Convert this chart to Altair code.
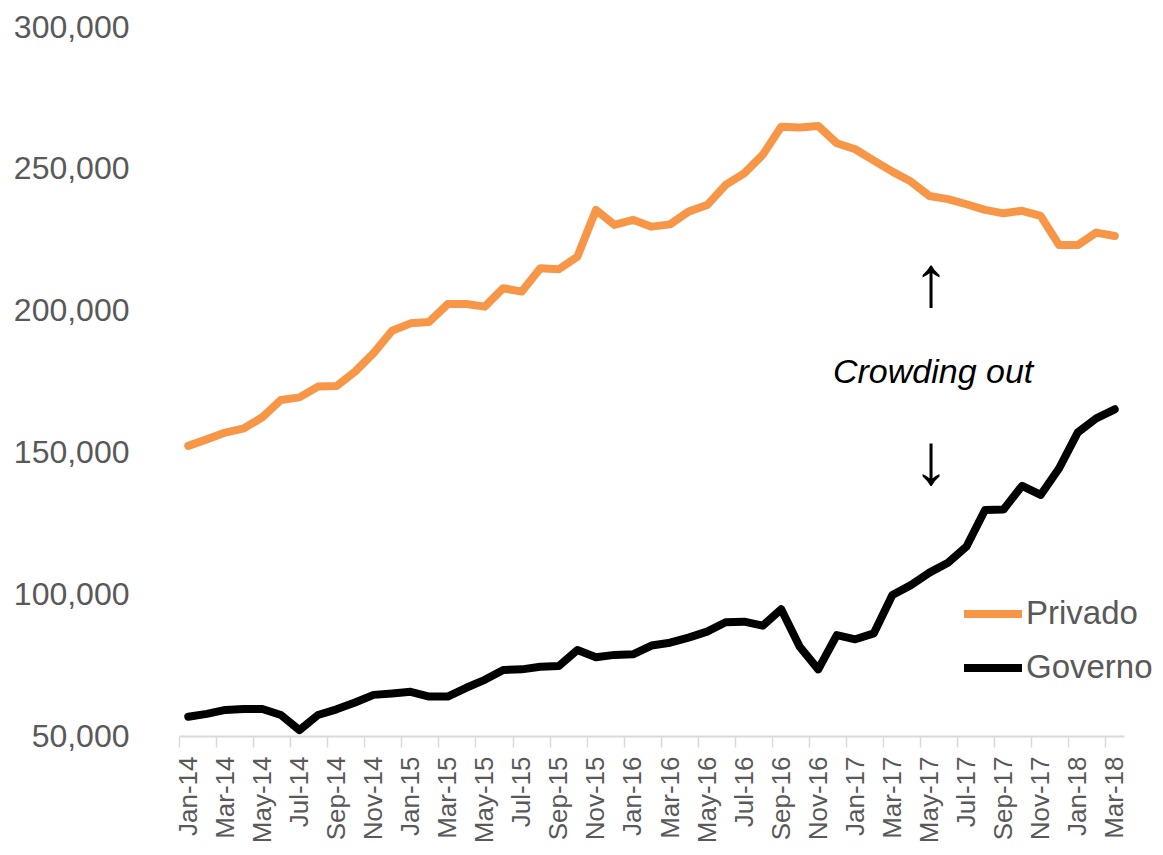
import json
import altair as alt
import pandas as pd

mon = ["Jan", "Feb", "Mar", "Apr", "May", "Jun", "Jul", "Aug", "Sep", "Oct", "Nov", "Dec"]
months = [f"{m}-{y:02d}" for y in range(14, 19) for m in mon][:51]

privado = [152300, 154600, 157000, 158500, 162400, 168500, 169400, 173200, 173400, 178500,
           185000, 192900, 195500, 196000, 202300, 202300, 201400, 207900, 206700, 214900,
           214600, 219000, 235500, 230200, 232000, 229600, 230400, 234900, 237200, 244300,
           248400, 254900, 264800, 264600, 265100, 259000, 256900, 252900, 249000, 245500,
           240400, 239300, 237500, 235500, 234300, 235200, 233400, 223100, 223100, 227500,
           226300]
governo = [56800, 57800, 59200, 59500, 59500, 57400, 52100, 57400, 59400, 61800,
           64500, 65000, 65600, 63900, 63900, 67000, 69800, 73300, 73500, 74400,
           74700, 80300, 77800, 78600, 78800, 81900, 82900, 84700, 86800, 90100,
           90300, 88900, 94700, 81500, 73500, 85600, 84100, 86200, 99700, 103200,
           107600, 111100, 116800, 129700, 129900, 138200, 135000, 144400, 157000, 162000,
           165200]
series_names = ["Privado", "Governo"]
series_colors = ["#F79646", "#000000"]
y_ticks = [50000, 100000, 150000, 200000, 250000, 300000]

# annotation
note_text = ["Crowding out"]
note_i = [40.2]
note_v = [178000]
arrow_text = ["↑", "↓"]
arrow_i = [40.1, 40.1]
arrow_v = [209500, 146500]

n = len(months)
df = pd.DataFrame({
    "i": list(range(n)) * 2,
    "month": months * 2,
    "value": privado + governo,
    "series": [series_names[0]] * n + [series_names[1]] * n,
})
notes = pd.DataFrame({"t": note_text, "i": note_i, "value": note_v})
arrows = pd.DataFrame({"t": arrow_text, "i": arrow_i, "value": arrow_v})

FONT = "Liberation Sans, Arial, sans-serif"
GRAY = "#595959"

tick_vals = []
for k in range(0, n, 2):
    tick_vals += [k - 0.5, k]
label_expr = f"datum.value % 1 == 0 ? {json.dumps(months)}[datum.value] : ''"

x_scale = alt.Scale(domain=[-0.5, n - 0.5], nice=False, zero=False)
y_scale = alt.Scale(domain=[50000, 300000], nice=False, zero=False)

x_enc = alt.X("i:Q", scale=x_scale, title=None,
              axis=alt.Axis(values=tick_vals, labelExpr=label_expr, labelAngle=270,
                            labelFont=FONT, labelFontSize=26, labelColor=GRAY,
                            labelPadding=9, labelOverlap=False, labelFlush=False,
                            grid=False, domain=True, domainColor="#D9D9D9", domainWidth=2,
                            tickColor="#D9D9D9", tickWidth=1.5, tickSize=11,
                            tickOpacity={"condition": {"test": "datum.value % 1 == 0", "value": 0},
                                         "value": 1}))
y_enc = alt.Y("value:Q", scale=y_scale, title=None,
              axis=alt.Axis(values=y_ticks, format=",.0f", labelFont=FONT, labelFontSize=32,
                            labelColor=GRAY, labelPadding=50, domain=False, ticks=False,
                            grid=False))

lines = alt.Chart(df).mark_line(strokeWidth=8, strokeCap="round", strokeJoin="round").encode(
    x=x_enc,
    y=y_enc,
    color=alt.Color("series:N",
                    scale=alt.Scale(domain=series_names, range=series_colors),
                    legend=alt.Legend(title=None, orient="none", legendX=781, legendY=554,
                                      labelFont=FONT, labelFontSize=33, labelColor=GRAY,
                                      symbolType="stroke", symbolSize=3364,
                                      symbolStrokeWidth=8, labelOffset=0, rowPadding=4)),
)

note = alt.Chart(notes).mark_text(font=FONT, fontSize=34, fontStyle="italic",
                                   color="#000000", align="center", baseline="middle").encode(
    x=x_enc, y=y_enc, text="t:N")

arrow = alt.Chart(arrows).mark_text(font=FONT, fontSize=72, color="#000000",
                                    align="center", baseline="middle").encode(
    x=x_enc, y=y_enc, text="t:N")

chart = alt.layer(lines, note, arrow).properties(
    width=945, height=709,
    autosize=alt.AutoSizeParams(type="none"),
    padding={"left": 171, "top": 19, "right": 28, "bottom": 118},
).configure_view(stroke=None)

chart.save("out.html", embed_options={"renderer": "svg", "actions": False})
